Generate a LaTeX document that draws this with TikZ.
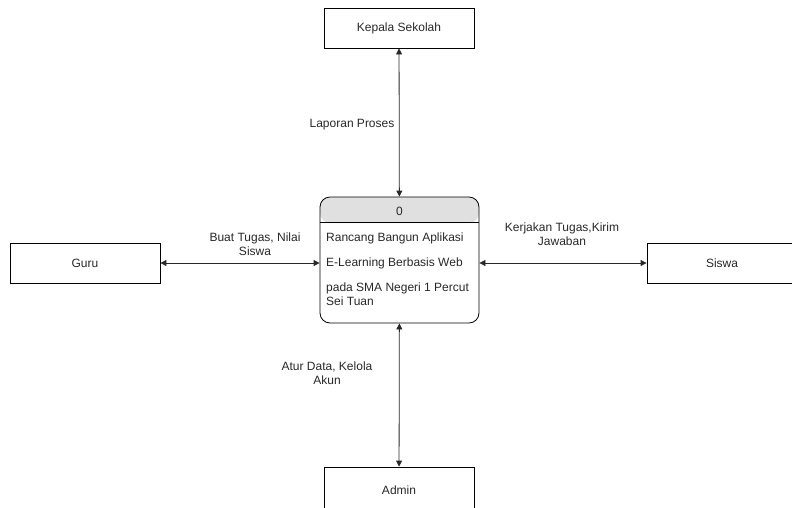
\documentclass[tikz,border=0pt]{standalone}
\usepackage{fontspec}
\setmainfont{Liberation Sans}
\usetikzlibrary{arrows.meta,positioning,calc}
\definecolor{ink}{RGB}{40,40,40}
\definecolor{headgray}{RGB}{224,224,224}

\begin{document}
\begin{tikzpicture}[x=1pt, y=-1pt, >={Triangle[length=6pt,width=6pt]},
    font=\fontsize{12}{13.5}\selectfont, text=ink,
    entity/.style={draw=black, thick, minimum width=150pt, minimum height=40pt, inner sep=0pt},
    flow/.style={<->, draw=ink, thick},
    lbl/.style={align=center, inner sep=0pt}]

    \useasboundingbox (0,0) rectangle (792,507);

    % Process
    \node[draw=black, thick, rounded corners=10pt, minimum width=159pt, minimum height=126pt,
          inner sep=0pt,
          path picture={\fill[headgray] (path picture bounding box.north west)
              rectangle ([yshift=-26pt]path picture bounding box.north east);}]
          (proc) at (399.5,260) {};
    \draw[black] ([yshift=-26pt]proc.north west) -- ([yshift=-26pt]proc.north east);
    \node[inner sep=0pt] (procid) at (399.5,211) {0};
    \node[anchor=west, inner sep=0pt] (line1) at (326,238) {Rancang Bangun Aplikasi};
    \node[anchor=west, inner sep=0pt] (line2) at (326,263) {E-Learning Berbasis Web};
    \node[anchor=west, inner sep=0pt, align=left] (line3) at (326,294) {pada SMA Negeri 1 Percut\\Sei Tuan};

    % External entities
    \node[entity] (kepala) at (399,28) {Kepala Sekolah};
    \node[entity] (guru) at (85,263) {Guru};
    \node[entity] (siswa) at (722,263) {Siswa};
    \node[entity, minimum height=46pt] (admin) at (399,490) {Admin};

    % Flows
    \draw[flow] (kepala) -- (proc);
    \draw[flow] (guru.east) -- (guru.east -| proc.west);
    \draw[flow] (siswa.west) -- (siswa.west -| proc.east);
    \draw[flow] (admin) -- (proc);

    % Flow labels
    \node[lbl] (lapor) at (352,125) {Laporan Proses};
    \node[lbl] (tugas) at (255,244) {Buat Tugas, Nilai\\Siswa};
    \node[lbl] (kirim) at (562,234) {Kerjakan Tugas,Kirim\\Jawaban};
    \node[lbl] (atur) at (327,373) {Atur Data, Kelola\\Akun};

\end{tikzpicture}
\end{document}
